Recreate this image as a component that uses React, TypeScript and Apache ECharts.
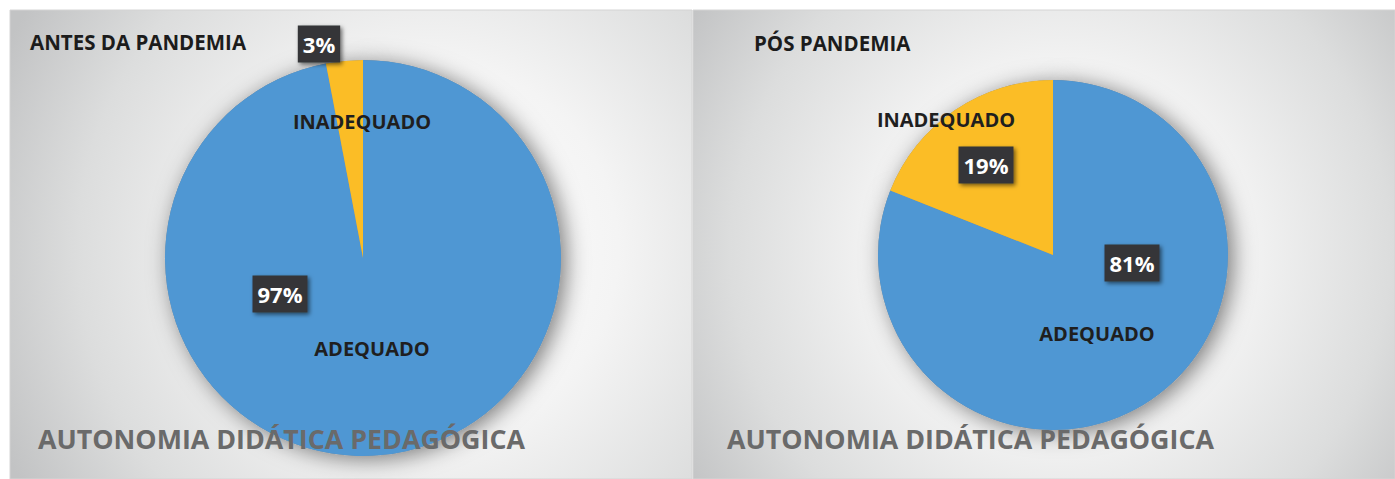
import React, { useEffect, useRef } from "react";
import * as echarts from "echarts";

// ---- data ----
const categories = ["ADEQUADO", "INADEQUADO"];
const antesValues = [97, 3];
const posValues = [81, 19];
const panelTitles = ["ANTES DA PANDEMIA", "PÓS PANDEMIA"];
const chartSubtitle = "AUTONOMIA DIDÁTICA PEDAGÓGICA";

// ---- layout (positions of labels, pies, panels) ----
const FONT = "'Open Sans', 'DejaVu Sans', sans-serif";
const BLUE = "#4f97d3";
const YELLOW = "#fbbd26";

const pies = [
  {
    values: antesValues,
    center: [363, 258],
    radius: 198,
    namePos: [[372, 348], [362, 121]],
    pctPos: [[280, 294], [319, 44]],
  },
  {
    values: posValues,
    center: [1053, 255],
    radius: 175,
    namePos: [[1097, 333], [946, 119]],
    pctPos: [[1132, 263], [986, 165]],
  },
];

const panels = [
  { x: 10, y: 10, w: 682, h: 469, gc: [430, 250], gr: 470 },
  { x: 693, y: 10, w: 702, h: 469, gc: [1060, 250], gr: 440 },
];

const titlePos = [[30, 42], [754, 43]];
const subtitlePos = [[38, 438], [727, 438]];

export default function App() {
  const ref = useRef<HTMLDivElement>(null);

  useEffect(() => {
    if (!ref.current) return;
    const chart = echarts.init(ref.current, null, { renderer: "svg" });

    const elements: any[] = [];
    panels.forEach((p) => {
      elements.push({
        type: "rect",
        z: -10,
        shape: { x: p.x, y: p.y, width: p.w, height: p.h },
        style: {
          fill: {
            type: "radial",
            x: p.gc[0],
            y: p.gc[1],
            r: p.gr,
            global: true,
            colorStops: [
              { offset: 0, color: "#ffffff" },
              { offset: 0.4, color: "#f4f4f4" },
              { offset: 0.75, color: "#dcdddd" },
              { offset: 1, color: "#c2c3c4" },
            ],
          },
          stroke: "#d4d4d4",
          lineWidth: 1,
        },
      });
    });
    panelTitles.forEach((t, i) => {
      elements.push({
        type: "text",
        z: 50,
        x: titlePos[i][0],
        y: titlePos[i][1],
        style: {
          text: t,
          fill: "#1c1c1c",
          font: `bold 20.5px ${FONT}`,
          verticalAlign: "middle",
        },
      });
      elements.push({
        type: "text",
        z: 50,
        x: subtitlePos[i][0],
        y: subtitlePos[i][1],
        style: {
          text: chartSubtitle,
          fill: "#6a6a6a",
          font: `bold 26.8px ${FONT}`,
          verticalAlign: "middle",
        },
      });
    });

    const series: any[] = [];
    pies.forEach((p) => {
      const data = categories.map((c, i) => ({ name: c, value: p.values[i] }));
      // shadow base
      series.push({
        type: "pie",
        silent: true,
        center: p.center,
        radius: p.radius,
        startAngle: 90,
        clockwise: true,
        z: 2,
        label: { show: false },
        labelLine: { show: false },
        itemStyle: {
          color: "#8a8a8a",
          shadowBlur: 22,
          shadowColor: "rgba(0,0,0,0.5)",
          shadowOffsetX: 5,
          shadowOffsetY: 3,
        },
        data,
      });
      // main slices with category labels
      series.push({
        type: "pie",
        silent: true,
        center: p.center,
        radius: p.radius,
        startAngle: 90,
        clockwise: true,
        z: 3,
        avoidLabelOverlap: false,
        color: [BLUE, YELLOW],
        itemStyle: { borderWidth: 0 },
        label: {
          show: true,
          position: "inside",
          formatter: "{b}",
          color: "#1f1f1f",
          fontFamily: FONT,
          fontWeight: "bold",
          fontSize: 20,
        },
        labelLine: { show: false },
        labelLayout: (params: any) => ({
          x: p.namePos[params.dataIndex][0],
          y: p.namePos[params.dataIndex][1],
        }),
        data,
      });
      // percentage labels
      series.push({
        type: "pie",
        silent: true,
        center: p.center,
        radius: p.radius,
        startAngle: 90,
        clockwise: true,
        z: 4,
        avoidLabelOverlap: false,
        itemStyle: { color: "rgba(0,0,0,0)" },
        label: {
          show: true,
          position: "inside",
          formatter: (prm: any) => `${prm.value}%`,
          color: "#ffffff",
          fontFamily: FONT,
          fontWeight: "bold",
          fontSize: 22,
          lineHeight: 24,
          backgroundColor: "#343638",
          padding: [7, 5, 6, 5],
          shadowBlur: 4,
          shadowColor: "rgba(0,0,0,0.55)",
          shadowOffsetX: 2,
          shadowOffsetY: 2,
        },
        labelLine: { show: false },
        labelLayout: (params: any) => ({
          x: p.pctPos[params.dataIndex][0],
          y: p.pctPos[params.dataIndex][1],
        }),
        data,
      });
    });

    chart.setOption({
      animation: false,
      backgroundColor: "#ffffff",
      graphic: { elements },
      series,
    });

    return () => chart.dispose();
  }, []);

  return (
    <div
      ref={ref}
      style={{ position: "absolute", left: 0, top: 0, width: 1395, height: 479 }}
    />
  );
}
